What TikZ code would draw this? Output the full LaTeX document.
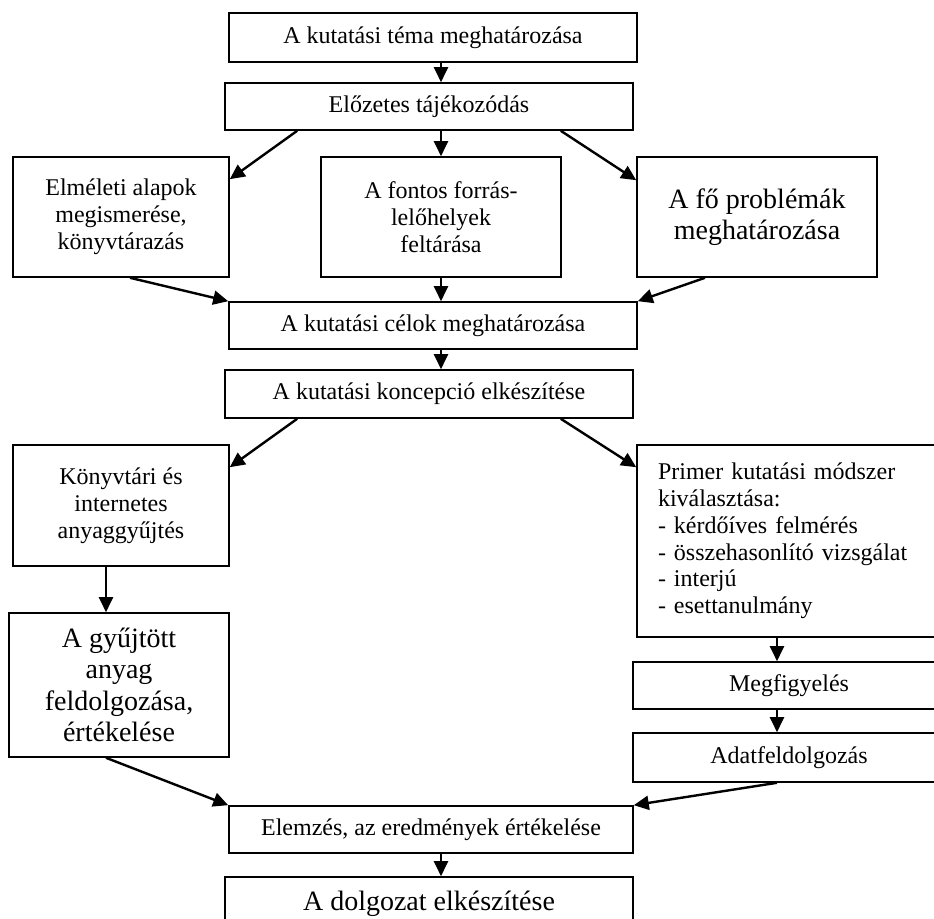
\documentclass[tikz,border=0pt]{standalone}
\usepackage{fontspec}
\setmainfont{Liberation Serif}
\usetikzlibrary{arrows.meta,calc}
\tikzset{
  boxs/.style={draw,line width=0.8pt,rectangle,inner sep=2pt,align=center,
    font=\fontsize{12}{13.4}\selectfont},
  bigtext/.style={font=\fontsize{14}{15.6}\selectfont},
  arr/.style={-{Triangle[length=7.5pt,width=7pt]},line width=1.2pt},
}
\newcommand\mybox[7][]{\node[boxs,minimum width={(#5-#3)*0.5pt},minimum height={(#6-#4)*0.5pt},#1] (#2) at ({(#3+#5)/2},{(#4+#6)/2}) {#7};}
\begin{document}
\begin{tikzpicture}[x=0.5pt,y=-0.5pt]
\useasboundingbox (0,0) rectangle (934,919);
\clip (0,0) rectangle (934,919);
\mybox{b1}{229}{13}{637}{62}{A kutatási téma meghatározása}
\mybox{b2}{225}{83}{633}{130}{Előzetes tájékozódás}
\mybox{L3}{13}{157}{229}{277}{Elméleti alapok\\megismerése,\\könyvtárazás}
\mybox{M3}{321}{157}{561}{277}{A fontos forrás-\\lelőhelyek\\feltárása}
\mybox[bigtext]{R3}{637}{157}{877}{277}{A fő problémák\\meghatározása}
\mybox{b4}{229}{302}{637}{349}{A kutatási célok meghatározása}
\mybox{b5}{225}{370}{633}{418}{A kutatási koncepció elkészítése}
\mybox{L6}{13}{445}{229}{566}{Könyvtári és\\internetes\\anyaggyűjtés}
\mybox[align=left,inner xsep=10.5pt,text width=133pt]{R6}{637}{445}{945}{637}{Primer kutatási módszer\\kiválasztása:\\- kérdőíves felmérés\\- összehasonlító vizsgálat\\- interjú\\- esettanulmány}
\mybox[bigtext]{L7}{9}{613}{229}{757}{A gyűjtött\\anyag\\feldolgozása,\\értékelése}
\mybox{megf}{633}{662}{945}{709}{Megfigyelés}
\mybox{adat}{633}{733}{945}{782}{Adatfeldolgozás}
\mybox{elem}{229}{806}{633}{853}{Elemzés, az eredmények értékelése}
\mybox[bigtext]{dolg}{225}{877}{633}{930}{A dolgozat elkészítése}
\coordinate (axm) at (441,0);
\coordinate (axl) at (106,0);
\coordinate (axr) at (777,0);
\draw[arr] (b1.south -| axm) -- (b2.north -| axm);
\draw[arr] ($(b2.south west)+(73,0)$) -- ($(L3.north east)+(0,23)$);
\draw[arr] (b2.south -| axm) -- (M3.north -| axm);
\draw[arr] ($(b2.south east)+(-73,0)$) -- ($(R3.north west)+(0,24)$);
\draw[arr] ($(L3.south)+(9,0)$) -- (b4.north west);
\draw[arr] (M3.south -| axm) -- (b4.north -| axm);
\draw[arr] ($(R3.south)+(-52,0)$) -- (b4.north east);
\draw[arr] (b4.south -| axm) -- (b5.north -| axm);
\draw[arr] ($(b5.south west)+(73,0)$) -- ($(L6.north east)+(0,23)$);
\draw[arr] ($(b5.south east)+(-73,0)$) -- ($(R6.north west)+(0,23)$);
\draw[arr] (L6.south -| axl) -- (L7.north -| axl);
\draw[arr] (R6.south -| axr) -- (megf.north -| axr);
\draw[arr] (megf.south -| axr) -- (adat.north -| axr);
\draw[arr] (L7.south -| axl) -- (elem.north west);
\draw[arr] (adat.south -| axr) -- (elem.north east);
\draw[arr] (elem.south -| axm) -- (dolg.north -| axm);
\end{tikzpicture}
\end{document}
